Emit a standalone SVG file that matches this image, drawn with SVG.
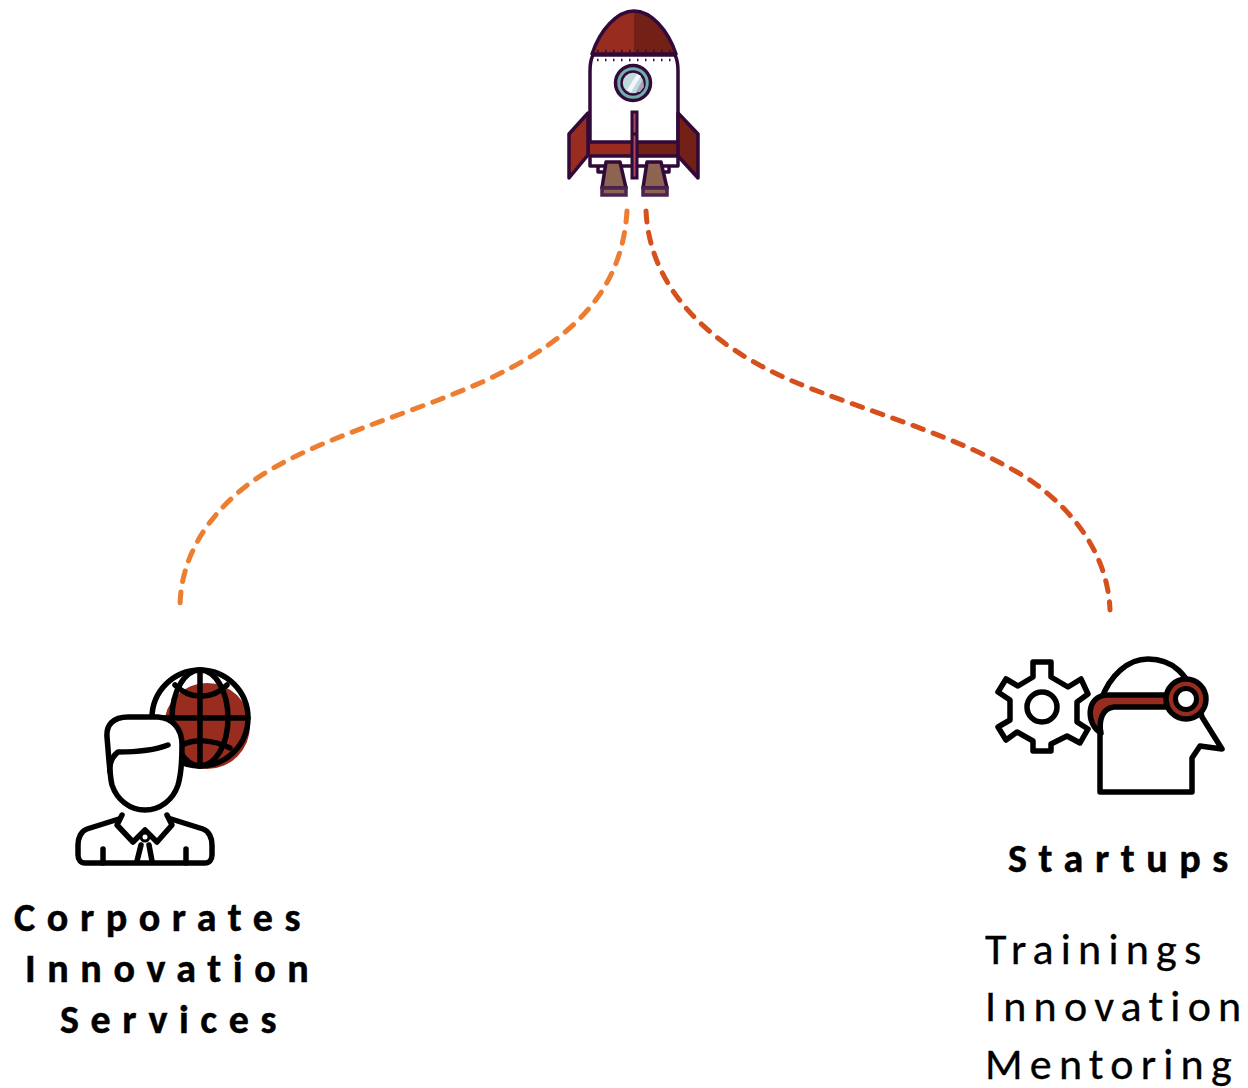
<svg xmlns="http://www.w3.org/2000/svg" width="1248" height="1088" viewBox="0 0 1248 1088">
<style>
.k{fill:none;stroke:#000;stroke-width:5.500;stroke-linecap:round;stroke-linejoin:round}
.w{fill:#fff;stroke:#000;stroke-width:5.500;stroke-linecap:round;stroke-linejoin:round}
.r{fill:none;stroke:#310a3a;stroke-width:3.500;stroke-linejoin:round;stroke-linecap:round}
.b{font-family:"Carlito","Open Sans","Liberation Sans",sans-serif;font-weight:700;font-size:40px;letter-spacing:11.600px;fill:#000;stroke:#000;stroke-width:.5}
.t{font-family:"Carlito","Open Sans","Liberation Sans",sans-serif;font-size:44px;letter-spacing:7.200px;fill:#000;stroke:#000;stroke-width:.3}
.c{fill:none;stroke-width:5;stroke-dasharray:11 10.500;stroke-linecap:round}
</style>
<rect width="1248" height="1088" fill="#fff"/>
<g id="connectors">
<path class="c" stroke="#ed7d31" d="M627,211 C622,290 575,340 480,383 C400,418 310,440 250,483 C205,517 180,560 180,608"/>
<path class="c" stroke="#d5501c" d="M646,211 C650,290 710,345 790,380 C860,410 960,435 1030,480 C1080,515 1108,560 1110,610"/>
</g>
<g id="rocket">
<path d="M592,54 C600,30 617,11 634,11 L634,54Z" fill="#982c1e"/>
<path d="M634,11 C651,11 668,30 676,54 L634,54Z" fill="#732116"/>
<path class="r" d="M592,54 C600,30 617,11 634,11 C651,11 668,30 676,54 Z"/>
<path class="r" d="M590,71 C590,64 591,59 593,55 L675,55 C677,59 678,64 678,71 L678,166 L590,166Z" style="fill:#fff"/>
<rect x="590" y="143" width="44" height="12" fill="#982c1e"/><rect x="634" y="143" width="44" height="12" fill="#732116"/>
<path class="r" d="M590,142H678M590,156H678"/>
<path class="r" d="M588,113 L569,134 L569,178 L588,155Z" style="fill:#982c1e"/>
<path class="r" d="M678,113 L698,134 L698,178 L678,156Z" style="fill:#732116"/>
<path d="M597,51 h1.500 M605,51 h1.500 M613,51 h1.500 M621,51 h1.500 M629,51 h1.500 M637,51 h1.500 M645,51 h1.500 M653,51 h1.500 M661,51 h1.500 M669,51 h1.500 M597,60 h1.500 M605,60 h1.500 M613,60 h1.500 M621,60 h1.500 M629,60 h1.500 M637,60 h1.500 M645,60 h1.500 M653,60 h1.500 M661,60 h1.500 M669,60 h1.500" stroke="#310a3a" stroke-width="2.500" fill="none"/>
<circle cx="633" cy="83" r="17.500" fill="#6fb0ac" stroke="#310a3a" stroke-width="3.500"/>
<circle cx="633" cy="83" r="11.500" fill="#bfd9dc" stroke="#310a3a" stroke-width="2.500"/>
<path d="M627,90 L637,74 L641,76 L631,92Z" fill="#f2f7f7"/><path d="M636,92 L643,79 L644,87 L640,92Z" fill="#a9a4b8"/>
<path class="r" d="M598,167 V172 H608 M669,167 V172 H660"/>
<path class="r" d="M606,162 L620,162 L626,188 L602,188Z" style="fill:#8d6352"/>
<rect x="602" y="188" width="24" height="7" fill="#8d6352" stroke="#4a2350" stroke-width="3.500"/>
<path class="r" d="M647,162 L661,162 L667,188 L643,188Z" style="fill:#8d6352"/>
<rect x="643" y="188" width="24" height="7" fill="#8d6352" stroke="#4a2350" stroke-width="3.500"/>
<rect x="632" y="112" width="5" height="66" fill="#a8485a" stroke="#310a3a" stroke-width="3"/>
<path d="M632,134 h5" stroke="#310a3a" stroke-width="3"/>
</g>
<g id="corporates">
<circle cx="207" cy="726" r="43" fill="#982c1e"/>
<circle cx="200" cy="718" r="48" class="k"/>
<ellipse cx="200" cy="718" rx="28" ry="48" class="k"/>
<path class="k" d="M200,670V766M152,718H248M175,685C190,700 212,700 227,685M182,745C194,739 212,739 230,748"/>
<path class="w" d="M122,818 L87,829 C81,831 78,838 78,845 L78,855 C78,860 81,863 85,863 L205,863 C209,863 212,860 212,855 L212,845 C212,838 209,831 203,829 L168,818Z"/>
<path class="w" d="M122,815 L117,825 L133,842 L145,830 L157,842 L172,825 L167,815"/>
<path class="k" d="M137,861 L141,845 M152,861 L149,845 M103,849V863 M186,849V863"/>
<circle cx="145" cy="837" r="4" fill="#fff" stroke="#000" stroke-width="3"/>
<path class="w" d="M107,737 C106,725 113,717 128,717 L158,717 C172,718 182,728 182,745 C182,765 181,775 178,785 C173,800 160,810 145,810 C130,810 117,800 112,785 C110,778 109,760 107,737Z"/>
<path class="k" d="M110,772 C109,763 113,756 118,752 C135,752 155,750 168,745"/>
</g>
<g id="startups">
<path class="w" d="M1033,662 H1051 V677 L1068,687 L1081,679 L1088,694 L1077,702 L1077,722 L1088,729 L1080,743 L1067,736 L1051,744 V751 H1033 V741 L1017,732 L1006,740 L998,727 L1010,720 L1010,700 L998,692 L1006,679 L1018,686 L1033,677Z"/>
<circle cx="1042" cy="707" r="15" class="k"/>
<path class="w" d="M1101,700 C1110,675 1128,659 1148,659 C1170,659 1190,670 1202,717 L1222,749 L1200,746 L1192,758 V792 H1100 V735Z"/>
<path d="M1101,733 C1086,725 1085,695 1108,695 H1168 V707 H1114 C1103,708 1098,720 1101,733Z" fill="#982c1e" stroke="#000" stroke-width="5.500" stroke-linejoin="round" stroke-linecap="round"/>
<circle cx="1186" cy="699" r="20" fill="#982c1e" stroke="#000" stroke-width="5.500"/>
<circle cx="1186" cy="699" r="10.500" fill="#fff" stroke="#000" stroke-width="5"/>
</g>
<g id="labels">
<text class="b" x="14" y="931">Corporates</text>
<text class="b" x="25" y="982">Innovation</text>
<text class="b" x="60" y="1033">Services</text>
<text class="b" x="1008" y="872">Startups</text>
<text class="t" x="985" y="963.500">Trainings</text>
<text class="t" x="985" y="1021">Innovation</text>
<text class="t" x="985" y="1078.500">Mentoring</text>
</g>
</svg>
